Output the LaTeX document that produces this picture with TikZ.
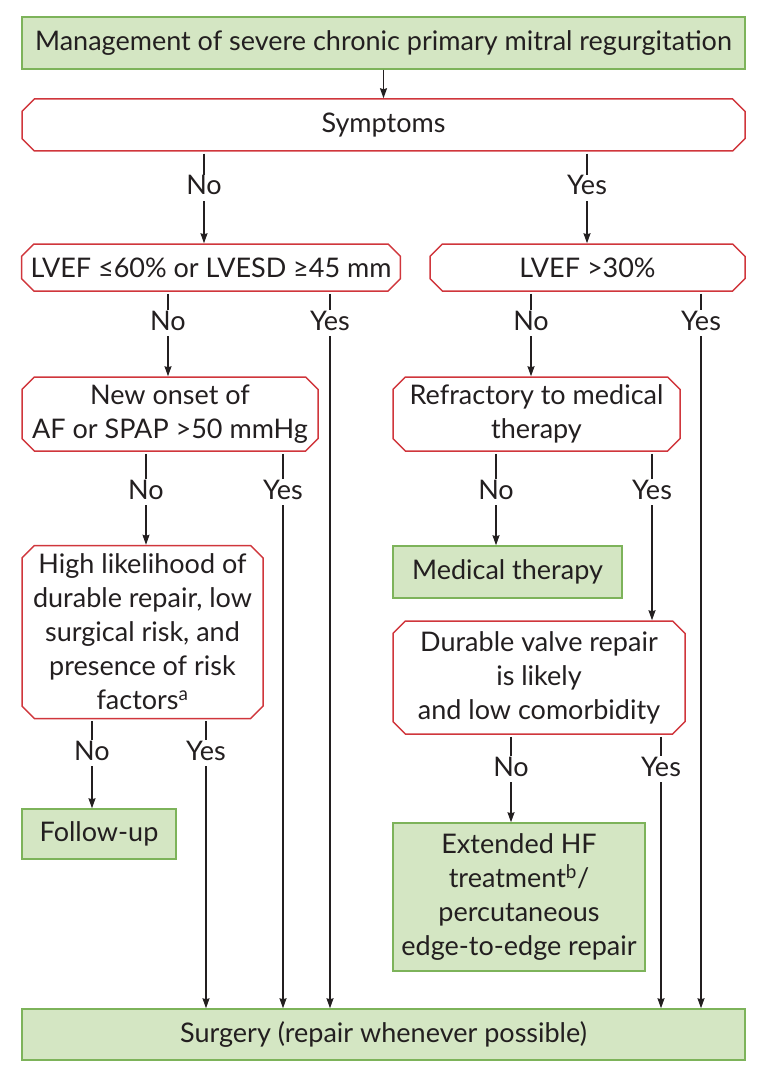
\documentclass[tikz,border=0pt]{standalone}
\usepackage{fontspec}
\setmainfont{Lato}
\usetikzlibrary{arrows.meta,shapes.misc}
\definecolor{boxgreen}{HTML}{D4E6C3}
\definecolor{edgegreen}{HTML}{7DB35A}
\definecolor{edgered}{HTML}{D0363C}
\definecolor{inkgrey}{HTML}{231F20}
\tikzset{
  greenbox/.style={draw=edgegreen, fill=boxgreen, line width=1.5pt, inner sep=0pt, align=center, text=inkgrey},
  redbox/.style={chamfered rectangle, chamfered rectangle xsep=9pt, draw=edgered, fill=white, line width=1.5pt, inner sep=0pt, align=center, text=inkgrey},
  answer/.style={inner sep=1pt, text=inkgrey, text height=19pt, text depth=5pt},
  flow/.style={draw=inkgrey, line width=1.2pt, shorten <=2pt},
  tip/.style={-{Stealth[length=10pt,width=7pt,inset=1pt]}}
}
\begin{document}
\begin{tikzpicture}[x=1pt,y=-1pt,font=\fontsize{27}{34}\selectfont]
\useasboundingbox (0,0) rectangle (768,1083);

% Start and symptoms
\node[greenbox, minimum width=723pt, minimum height=52pt] (title) at (383.5,43) {Management of severe chronic primary mitral regurgitation};
\node[redbox, minimum width=723pt, minimum height=52pt] (sym) at (383.5,125) {Symptoms};

% LVEF checks
\node[redbox, minimum width=378pt, minimum height=47pt] (lvefA) at (211,267.5) {LVEF ≤60\% or LVESD ≥45 mm};
\node[redbox, minimum width=315pt, minimum height=47pt] (lvefB) at (587.5,267.5) {LVEF >30\%};

% Second level
\node[redbox, minimum width=296pt, minimum height=74pt] (onset) at (170,414) {New onset of\\AF or SPAP >50 mmHg};
\node[redbox, minimum width=287pt, minimum height=74pt] (refr) at (536.5,414) {Refractory to medical\\therapy};

% Third level
\node[redbox, minimum width=241pt, minimum height=173pt] (high) at (142.5,632) {High likelihood of\\durable repair, low\\surgical risk, and\\presence of risk\\factors\textsuperscript{a}};
\node[greenbox, minimum width=229pt, minimum height=52pt] (med) at (507.5,572) {Medical therapy};
\node[redbox, minimum width=292pt, minimum height=113pt] (durable) at (539,677.5) {Durable valve repair\\is likely\\and low comorbidity};

% Outcomes
\node[greenbox, minimum width=154pt, minimum height=50pt] (follow) at (99,834) {Follow-up};
\node[greenbox, minimum width=252pt, minimum height=148pt] (ext) at (519,897) {Extended HF\\treatment\textsuperscript{b}/\\percutaneous\\edge-to-edge repair};
\node[greenbox, minimum width=723pt, minimum height=51pt] (surgery) at (383.5,1034.5) {Surgery (repair whenever possible)};

% Answers
\node[answer] (noA) at (204,188) {No};
\node[answer] (yesA) at (587,188) {Yes};
\node[answer] (noB) at (168,323) {No};
\node[answer] (yesB) at (330,323) {Yes};
\node[answer] (noC) at (531,323) {No};
\node[answer] (yesC) at (701,323) {Yes};
\node[answer] (noD) at (146,492) {No};
\node[answer] (yesD) at (283,492) {Yes};
\node[answer] (noE) at (496,492) {No};
\node[answer] (yesE) at (652,492) {Yes};
\node[answer] (noF) at (92,753) {No};
\node[answer] (yesF) at (206,753) {Yes};
\node[answer] (noG) at (511,769) {No};
\node[answer] (yesG) at (661,769) {Yes};

% Connectors
\draw[flow, tip, shorten <=0pt] (title) -- (sym);
\foreach \from/\lbl/\to in {sym/noA/lvefA, sym/yesA/lvefB, lvefA/noB/onset, lvefA/yesB/surgery,
    lvefB/noC/refr, lvefB/yesC/surgery, onset/noD/high, onset/yesD/surgery,
    refr/noE/med, refr/yesE/durable, high/noF/follow, high/yesF/surgery,
    durable/noG/ext, durable/yesG/surgery}
{
  \draw[flow] (\from.south -| \lbl) -- (\lbl.north);
  \draw[flow, tip, shorten <=0pt] (\lbl.south) -- (\to.north -| \lbl);
}
\end{tikzpicture}
\end{document}
